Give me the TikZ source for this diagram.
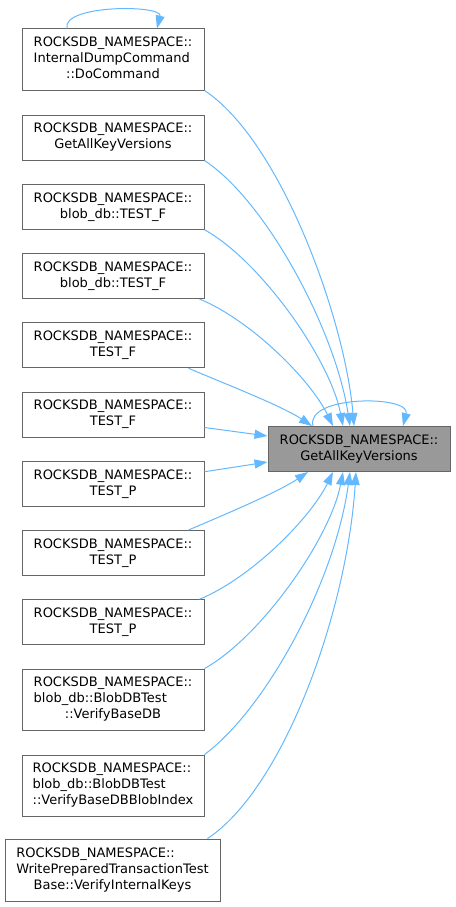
\documentclass[tikz,border=0pt]{standalone}
\usepackage{fontspec}
\setmainfont{DejaVu Sans}
\usetikzlibrary{arrows.meta}
\usepackage{xcolor}
\definecolor{edgeblue}{HTML}{63B8FF}
\definecolor{boxline}{HTML}{666666}
\definecolor{hitfill}{HTML}{999999}

\begin{document}
\begin{tikzpicture}[x=1pt, y=-1pt,
		caller/.style={draw=boxline, line width=1pt, minimum width=182pt, minimum height=45pt,
				inner sep=0pt, align=center, font=\fontsize{13}{16}\selectfont},
		tallcaller/.style={caller, minimum height=61pt},
		callee/.style={caller, fill=hitfill},
		edge/.style={edgeblue, line width=1pt, -{Triangle[length=13pt,width=9pt]}}]
		\useasboundingbox (0,0) rectangle (455,907);

		% the function that is called
		\node[callee] (gakv) at (359,449) {ROCKSDB\_NAMESPACE::\\GetAllKeyVersions};

		% callers, top to bottom
		\node[tallcaller] (n1) at (113,59.5) {\begin{tabular}{@{}l@{}}ROCKSDB\_NAMESPACE::\\InternalDumpCommand\\\multicolumn{1}{@{}c@{}}{::DoCommand}\end{tabular}};
		\foreach \n/\y/\txt in {n2/137.5/GetAllKeyVersions, n3/206.75/blob\_db::TEST\_F,
				n4/276/blob\_db::TEST\_F, n5/345.25/TEST\_F, n6/414.5/TEST\_F,
				n7/483.75/TEST\_P, n8/553/TEST\_P, n9/622.25/TEST\_P} {
				\node[caller] (\n) at (113,\y) {ROCKSDB\_NAMESPACE::\\\txt};
			}
		\node[tallcaller] (n10) at (113,699.5) {\begin{tabular}{@{}l@{}}ROCKSDB\_NAMESPACE::\\blob\_db::BlobDBTest\\\multicolumn{1}{@{}c@{}}{::VerifyBaseDB}\end{tabular}};
		\node[tallcaller] (n11) at (113,785.5) {\begin{tabular}{@{}l@{}}ROCKSDB\_NAMESPACE::\\blob\_db::BlobDBTest\\\multicolumn{1}{@{}c@{}}{::VerifyBaseDBBlobIndex}\end{tabular}};
		\node[tallcaller, minimum width=215pt, minimum height=62pt] (n12) at (112.5,870) {\begin{tabular}{@{}l@{}}ROCKSDB\_NAMESPACE::\\WritePreparedTransactionTest\\\multicolumn{1}{@{}c@{}}{Base::VerifyInternalKeys}\end{tabular}};

		% recursive calls
		\draw[edge] ([xshift=-46pt]n1.north) .. controls +(-6,-24) and +(6,-24) .. ([xshift=44pt]n1.north);
		\draw[edge] ([xshift=-46pt]gakv.north) .. controls +(-8,-31) and +(8,-31) .. ([xshift=44pt]gakv.north);

		% calls entering from above
		\foreach \n/\sx/\dx/\ax/\ay/\bx/\by in {n1/0/-5/76/50/-9/-107, n2/0/-9/61/40/-15/-97,
				n3/0/-16/56/31/-13/-67, n4/-5/-26/51/21/-23/-47, n5/-16/-47/40/17/-30/-20} {
				\draw[edge] ([xshift=\sx pt]\n.south east) .. controls +(\ax,\ay) and +(\bx,\by) .. ([xshift=\dx pt]gakv.north);
			}

		% calls entering from the left
		\draw[edge] ([yshift=-13pt]n6.east) -- ([yshift=13pt]gakv.west);
		\draw[edge] ([yshift=12pt]n7.east) -- ([yshift=-13pt]gakv.west);

		% calls entering from below
		\foreach \n/\sx/\dx/\ax/\ay/\bx/\by in {n8/-16/-51/40/-17/-30/20, n9/-5/-26/51/-21/-23/47,
				n10/0/-16/56/-31/-13/67, n11/0/-9/61/-45/-15/110, n12/-13/-3/76/-50/-9/140} {
				\draw[edge] ([xshift=\sx pt]\n.north east) .. controls +(\ax,\ay) and +(\bx,\by) .. ([xshift=\dx pt]gakv.south);
			}
	\end{tikzpicture}
\end{document}
